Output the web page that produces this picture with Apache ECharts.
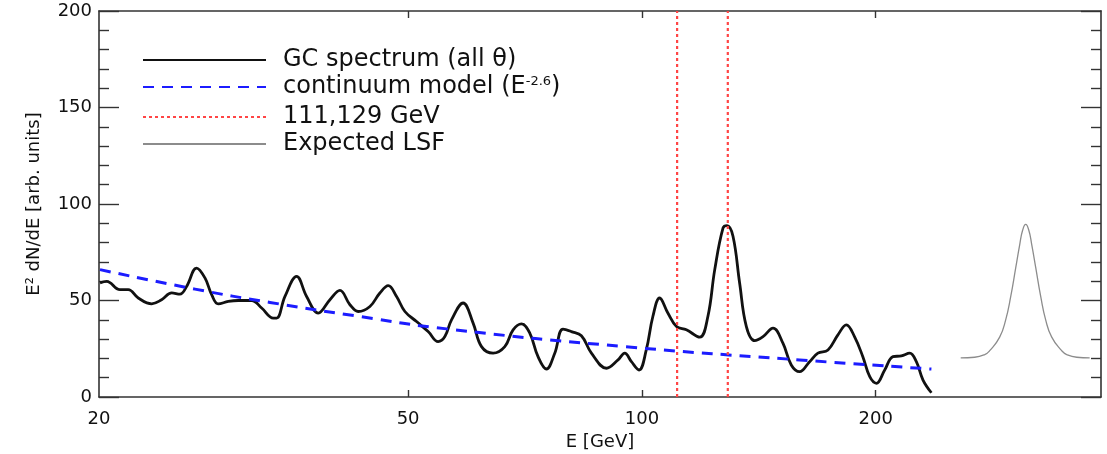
<!DOCTYPE html>
<html>
<head>
<meta charset="utf-8">
<script src="https://cdn.jsdelivr.net/npm/echarts@6/dist/echarts.min.js"></script>
<style>
html,body{margin:0;padding:0;background:#fff;}
#chart{width:1107px;height:454px;}
</style>
</head>
<body>
<div id="chart"></div>
<script>
// values: energy in GeV, E^2 dN/dE in arb. units
var gcEnergy=[20.06,20.46,21.28,21.81,22.47,23.38,24.08,24.81,25.42,25.93,26.71,27.38,27.93,28.48,29.34,30.22,31.45,32.39,33.53,33.87,
  34.71,35.93,37.01,38.31,39.66,40.85,42.08,43.13,44.65,45.99,47.14,48.32,49.53,51.27,53.06,54.66,55.76,56.87,58.86,60.63,
  62.16,64.33,66.60,68.26,69.98,71.72,73.50,75.35,77.23,79.15,81.14,83.58,86.10,90.01,93.16,95.03,96.94,99.15,101.3,103.3,
  105.4,108.0,110.8,114.1,118.7,121.6,124.1,127.2,128.7,131.0,133.6,136.3,139.7,143.2,147.5,151.9,155.7,159.6,164.4,168.5,
  173.6,178.8,183.3,187.8,192.5,196.5,200.4,205.4,210.5,215.8,221.2,225.6,230.1,235.9];
var gcFlux=[59.1,59.9,55.6,55.6,51.3,48.3,50.4,53.9,53.3,57.3,66.8,61.7,53.0,48.2,49.5,50.0,50.0,46.1,40.9,40.9,
  52.1,62.5,52.1,43.5,50.4,55.2,47.8,44.3,46.9,53.9,57.7,52.1,44.3,39.1,33.9,28.7,31.3,40.0,48.7,38.3,
  26.1,22.7,26.1,34.8,37.9,33.1,20.9,14.5,22.7,35.2,33.9,31.7,22.7,14.9,19.2,22.7,18.3,14.0,24.4,41.7,
  51.3,43.5,36.5,34.8,31.0,41.7,66.0,87.6,88.8,83.3,59.1,36.5,29.2,31.3,35.7,27.9,16.6,13.1,18.3,22.7,
  24.4,32.2,37.4,31.3,20.9,10.5,7.1,14.0,20.9,21.3,22.7,18.3,8.8,2.2];
var contEnergy=[20.06,26.58,33.2,43.34,56.04,95.03,159.6,235.9];
var contFlux=[66,55.9,49,41.7,35.3,26.1,19.2,14.5];
var lsfEnergy=[257.3,268.2,276.3,280.4,288.8,294.0,298.4,302.9,306.5,309.2,312.0,314.8,317.6,321.4,326.2,331.0,337.0,347.1,352.3,362.9,377.1];
var lsfFlux=[20.3,20.6,22,24,31,40,52,67,79,86.5,89.4,86.5,79,67,52,40,31,24,22,20.6,20.3];
var lineEnergy=[111,129];
var xLabelValues=[20,50,100,200];
var xTickValues=[50,100,200];
var xRange=[20,390];
var yRange=[0,200];

var names=['GC spectrum (all θ)','continuum model (E-2.6)','111,129 GeV','Expected LSF'];
var font='DejaVu Sans';
var axisColor='#333';

function pairs(xs,ys){
  var out=[];
  for(var i=0;i<xs.length;i++){out.push([xs[i],ys[i]]);}
  return out;
}

var myChart=echarts.init(document.getElementById('chart'));

var series=[{
  name:names[0],type:'line',smooth:0.4,symbol:'none',
  data:pairs(gcEnergy,gcFlux),
  lineStyle:{color:'#111',width:2.8},itemStyle:{color:'#111'}
},{
  name:names[1],type:'line',smooth:true,symbol:'none',
  data:pairs(contEnergy,contFlux),
  lineStyle:{color:'#1c1cff',width:3,type:[11,8]},itemStyle:{color:'#1c1cff'}
},{
  name:names[3],type:'line',smooth:true,symbol:'none',
  data:pairs(lsfEnergy,lsfFlux),
  lineStyle:{color:'#8c8c8c',width:1.3},itemStyle:{color:'#8c8c8c'}
}];
//红色竖线
for(var i=0;i<lineEnergy.length;i++){
  series.push({
    name:names[2],type:'line',symbol:'none',
    data:[[lineEnergy[i],yRange[0]],[lineEnergy[i],yRange[1]]],
    lineStyle:{color:'#ff4545',width:2.2,type:[3,3]},itemStyle:{color:'#ff4545'}
  });
}

var option={
  animation:false,
  backgroundColor:'#fff',
  textStyle:{fontFamily:font},
  grid:{left:99,right:6,top:11,bottom:57,outerBoundsMode:'none'},
  legend:{
    orient:'vertical',left:142,top:48,padding:0,
    itemWidth:123,itemHeight:14,itemGap:3,
    itemStyle:{opacity:0},
    data:names,
    selectedMode:false,
    textStyle:{
      fontFamily:font,fontSize:24,lineHeight:24,color:'#111',padding:[0,0,0,12],
      rich:{
        n:{fontFamily:font,fontSize:24,lineHeight:24,color:'#111'},
        sup:{fontFamily:font,fontSize:13,lineHeight:24,verticalAlign:'top',color:'#111',padding:[0,0,14,0]}
      }
    },
    formatter:function(name){
      if(name===names[1]){return '{n|continuum model (E}{sup|-2.6}{n|)}';}
      return name;
    }
  },
  xAxis:[{
    type:'log',logBase:10,min:xRange[0],max:xRange[1],
    name:'E [GeV]',nameLocation:'middle',nameGap:33,
    nameTextStyle:{fontFamily:font,fontSize:18,color:'#111'},
    axisLine:{show:true,lineStyle:{color:axisColor,width:1.6}},
    axisTick:{show:true,inside:true,length:7,customValues:xTickValues,lineStyle:{color:axisColor,width:1.4}},
    axisLabel:{show:true,customValues:xLabelValues,margin:13,fontFamily:font,fontSize:18,color:'#111'},
    splitLine:{show:false},minorTick:{show:false},minorSplitLine:{show:false}
  },{
    type:'log',logBase:10,min:xRange[0],max:xRange[1],position:'top',
    axisLine:{show:true,onZero:false,lineStyle:{color:axisColor,width:1.6}},
    axisTick:{show:true,inside:true,length:7,customValues:xTickValues,lineStyle:{color:axisColor,width:1.4}},
    axisLabel:{show:false},splitLine:{show:false}
  }],
  yAxis:[{
    type:'value',min:yRange[0],max:yRange[1],interval:50,
    name:'E² dN/dE [arb. units]',nameLocation:'middle',nameGap:56,
    nameTextStyle:{fontFamily:font,fontSize:18,color:'#111'},
    axisLine:{show:true,lineStyle:{color:axisColor,width:1.6}},
    axisTick:{show:true,inside:true,length:20,lineStyle:{color:axisColor,width:1.4}},
    minorTick:{show:true,splitNumber:5,length:10,lineStyle:{color:axisColor,width:1.4}},
    axisLabel:{margin:7,fontFamily:font,fontSize:18,color:'#111'},
    splitLine:{show:false}
  },{
    type:'value',min:yRange[0],max:yRange[1],interval:50,position:'right',
    axisLine:{show:true,onZero:false,lineStyle:{color:axisColor,width:1.6}},
    axisTick:{show:true,inside:true,length:20,lineStyle:{color:axisColor,width:1.4}},
    minorTick:{show:true,splitNumber:5,length:10,lineStyle:{color:axisColor,width:1.4}},
    axisLabel:{show:false},splitLine:{show:false}
  }],
  series:series
};
myChart.setOption(option);
</script>
</body>
</html>
